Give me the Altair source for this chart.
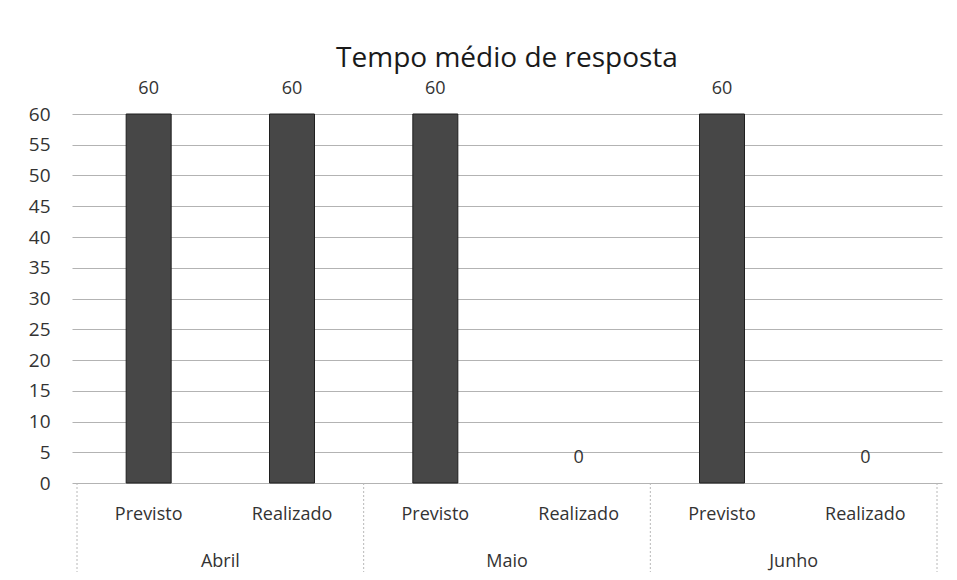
import altair as alt
import pandas as pd

months = ["Abril", "Maio", "Junho"]
types = ["Previsto", "Realizado"]
values = [60, 60, 60, 0, 60, 0]
y_ticks = list(range(0, 61, 5))
title_text = "Tempo médio de resposta"

rows = []
i = 0
for m in months:
    for t in types:
        rows.append({"pos": i, "month": m, "type": t, "value": values[i]})
        i += 1
df = pd.DataFrame(rows)

W, H = 870, 369
FONT = "Open Sans"
TXT = "#333333"

xscale = alt.Scale(domain=[-0.5, len(values) - 0.5], nice=False, zero=False)
yscale = alt.Scale(domain=[0, 60], nice=False)
yaxis = alt.Axis(values=y_ticks, tickCount=13, labelOverlap=False, grid=True,
                 gridColor="#a0a0a0", gridWidth=0.8,
                 domain=False, ticks=False, labelFontSize=19, labelColor=TXT,
                 labelFont=FONT, labelPadding=22, title=None)

base = alt.Chart(df)

bars = base.mark_bar(size=45, color="#474747", stroke="#1f1f1f").encode(
    x=alt.X("pos:Q", scale=xscale, axis=None),
    y=alt.Y("value:Q", scale=yscale, axis=yaxis),
    strokeWidth=alt.condition("datum.value > 0", alt.value(1), alt.value(0)),
    opacity=alt.condition("datum.value > 0", alt.value(1), alt.value(0)),
)

value_labels = base.mark_text(dy=-25, fontSize=18, font=FONT, color=TXT).encode(
    x=alt.X("pos:Q", scale=xscale, axis=None),
    y=alt.Y("value:Q", scale=yscale, axis=yaxis),
    text=alt.Text("value:Q"),
)

type_labels = base.mark_text(fontSize=18, font=FONT, color=TXT).encode(
    x=alt.X("pos:Q", scale=xscale, axis=None),
    y=alt.value(H + 32),
    text="type:N",
)

month_labels = base.transform_aggregate(
    mid="mean(pos)", groupby=["month"]
).mark_text(fontSize=18, font=FONT, color=TXT).encode(
    x=alt.X("mid:Q", scale=xscale, axis=None),
    y=alt.value(H + 79),
    text="month:N",
)

sep_left = base.transform_aggregate(
    lo="min(pos)", groupby=["month"]
).transform_calculate(b="datum.lo - 0.5").mark_rule(
    color="#b8b8b8", strokeWidth=1, strokeDash=[2, 2]
).encode(
    x=alt.X("b:Q", scale=xscale, axis=None),
    y=alt.value(H),
    y2=alt.value(H + 95),
)

sep_right = base.transform_aggregate(
    hi="max(pos)"
).transform_calculate(b="datum.hi + 0.5").mark_rule(
    color="#b8b8b8", strokeWidth=1, strokeDash=[2, 2]
).encode(
    x=alt.X("b:Q", scale=xscale, axis=None),
    y=alt.value(H),
    y2=alt.value(H + 95),
)

chart = alt.layer(bars, value_labels, type_labels, month_labels, sep_left, sep_right).properties(
    width=W,
    height=H,
    background="white",
    title=alt.TitleParams(title_text, fontSize=28, font=FONT, color="#1a1a1a",
                          fontWeight="normal", anchor="middle", offset=7),
    autosize=alt.AutoSizeParams(type="none"),
    padding={"left": 64, "top": 106, "right": 7, "bottom": 89},
).configure_view(stroke=None, strokeWidth=0)

chart.save("out.html", embed_options={"renderer": "svg", "actions": False})
